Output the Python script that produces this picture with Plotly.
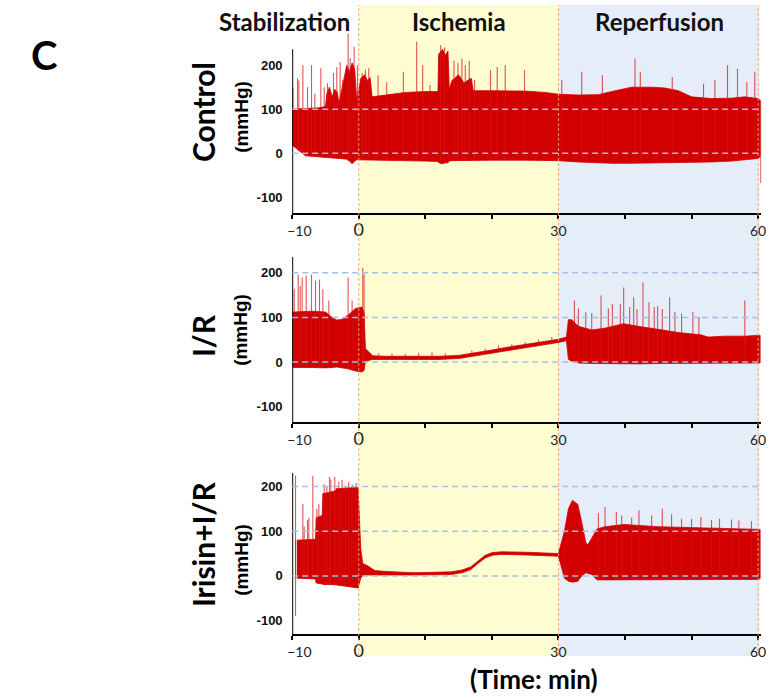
import numpy as np
import plotly.graph_objects as go

W, H = 770, 698

# ---------------- data ----------------
phase_names = ["Stabilization", "Ischemia", "Reperfusion"]
panel_names = ["Control", "I/R", "Irisin+I/R"]
y_tick_vals = [-100, 0, 100, 200]
y_tick_text = ["-100", "0", "100", "200"]
x_tick_vals = [-10, 0, 10, 20, 30, 40, 50, 60]
x_tick_text = ["\u00a0\u00a0\u00a0\u00a0−10", "<span style='font-size:18px'>0</span>", "", "", "30", "", "", "60"]
grid_ctrl = [0, 100]
grid_ir = [0, 100, 200]
grid_irisin = [0, 100, 200]

# Control: envelope of the pressure trace
ctrl_t = [-10, -8, -6, -5, -4.8, -4.4, -4.0, -3.6, -3.2, -3.0, -2.2, -1.8, -1.4, -1.0, -0.6, -0.3, 0.3, 0.9, 1.3, 1.7, 2.0, 4, 7, 10, 11.9, 12.0, 12.6, 13.0, 13.4,
          13.6, 14.0, 15.0, 15.8, 16.9, 17.2, 20, 25, 28, 30, 33, 36, 38, 41, 44, 46, 48, 50, 53, 56, 58, 60, 60.3]
ctrl_hi = [100, 101, 103, 106, 135, 150, 128, 145, 138, 112, 175, 200, 185, 205, 190, 118, 170, 178, 165, 172, 128, 132, 138, 140, 140, 225, 236, 222, 232,
           145, 165, 178, 160, 170, 142, 142, 141, 138, 134, 132, 133, 140, 150, 150, 148, 142, 128, 124, 125, 128, 124, 120]
ctrl_lo = [18, -6, -9, -10, -11, -11, -12, -12, -12, -12, -13, -14, -18, -24, -18, -15, -16, -16, -16, -16, -16, -16, -17, -18, -19, -22, -24, -22, -22,
           -18, -17, -17, -17, -17, -16, -16, -16, -16, -17, -20, -22, -23, -23, -22, -22, -22, -21, -20, -18, -15, -12, -8]
ctrl_spk_t = [-9.9, -9.2, -9.0, -8.4, -7.7, -7.1, -6.6, -5.7, -5.2, -4.7, -4.3, -3.8, -3.3, -2.8, -2.4, -1.6,
              -1.3, -0.7, -0.2, 0.5, 1.0, 1.5, 2.9, 4.2, 6.7, 8.7, 9.6, 10.7, 12.3, 12.9, 14.3, 14.9, 15.5,
              16.0, 16.6, 17.4, 19.8, 20.8, 22.0, 24.9, 30.5, 33.5, 36.6, 41.5, 42.3, 47.1, 51.8, 53.5,
              55.4, 56.9, 58.3, 59.5, 60.4]
ctrl_spk_v = [150, 170, 165, 200, 150, 200, 135, 193, 150, 159, 143, 182, 195, 207, 166, 272,
              216, 241, 200, 182, 190, 193, 177, 161, 185, 253, 200, 155, 245, 240, 210, 205, 215,
              200, 210, 166, 189, 196, 200, 189, 166, 185, 177, 215, 185, 173, 158, 166,
              200, 192, 162, 185, -68]

# I/R
ir_t = [-10, -9.8, -7, -5, -4, -3.3, -2.5, -1.6, -0.5, 0.5, 0.8, 1.0, 2.1, 4, 8, 12, 15, 16.8, 20, 22.6,
        25, 28.3, 30, 31.2, 31.5, 32, 33, 35, 37, 39.8, 42, 45.6, 48, 51.4, 52.5, 55, 58, 60, 60.3]
ir_hi = [112, 112, 114, 112, 100, 94, 96, 105, 120, 123, 110, 30, 14, 13, 13, 13, 15, 19, 27, 34,
         39, 47, 51, 56, 95, 95, 80, 72, 76, 86, 80, 72, 66, 61, 56, 58, 58, 60, 60]
ir_lo = [-8, -12, -12, -13, -12, -11, -12, -15, -20, -22, -18, 2, 6, 6, 6, 6, 8, 12, 20, 27,
         32, 40, 44, 48, 6, 2, -2, -3, -3, -4, -4, -3, -3, -3, -2, -2, -2, -2, -2]
ir_spk_t = [-9.7, -9.1, -8.8, -8.5, -7.9, -7.1, -6.5, -5.9, -5.4, -4.5, -1.6, -1.0, 0.6, 0.8,
            3, 5, 7, 9, 11, 13, 17, 19, 21, 23, 25, 27, 29,
            32.4, 33.0, 34.1, 35.0, 36.4, 37.5, 38.1, 39.3, 39.8, 40.7, 41.3, 41.8, 42.7, 43.6, 44.4,
            44.9, 45.6, 46.7, 47.5, 48.5, 50.2, 51.1, 58.0]
ir_spk_v = [163, 196, 170, 189, 193, 196, 182, 185, 163, 138, 189, 138, 211, 196,
            20, 19, 18, 21, 22, 20, 26, 30, 37, 41, 45, 50, 56,
            138, 120, 112, 110, 149, 120, 130, 130, 167, 123, 145, 118, 178, 134, 123,
            125, 119, 145, 112, 108, 112, 101, 138]

# Irisin + I/R
irs_t = [-9.3, -6.5, -6.4, -5.5, -5.4, -3.5, -3.4, -0.1, 0.3, 0.6, 1.4, 2.4, 4.1, 8.2, 13.9, 15.5, 16.8,
         18, 19, 20, 21.4, 25, 30, 30.9, 31.5, 32.1, 32.9, 33.5, 34.1, 34.4, 35, 35.8, 37, 39.8, 45,
         50, 55, 60, 60.3]
irs_hi = [80, 82, 130, 135, 184, 190, 195, 198, 60, 28, 22, 12, 10, 7, 9, 13, 20,
          35, 46, 52, 54, 53, 50, 100, 150, 169, 160, 120, 75, 69, 85, 105, 110, 115, 110,
          108, 107, 105, 104]
irs_lo = [-5, -7, -16, -18, -19, -20, -21, -27, -5, 1, 2, 3, 3, 2, 3, 7, 14,
          29, 40, 46, 48, 47, 44, -5, -12, -14, -12, 0, 7, 6, 3, -9, -9, -8, -8,
          -8, -8, -8, -6]
irs_spk_t = [-9.5, -9.5, -8.4, -8.2, -7.7, -7.5, -6.9, -6.3, -6.0, -5.2, -4.8, -4.4, -4.2, -3.6, -3.0,
             -2.5, -2.0, -1.5, -1.0, -0.4, 30.9, 36.0, 37.0, 38.7, 39.5, 41.0, 42.1, 44.0, 45.6, 47.0,
             48.5, 50.0, 51.4, 53.0, 54.2, 56.0, 57.1, 59.0]
irs_spk_v = [224, -90, 161, 110, 125, 130, 224, 150, 160, 205, 200, 221, 215, 221, 210,
             215, 200, 210, 205, 208, 69, 140, 154, 143, 135, 130, 147, 135, 150, 138,
             128, 128, 132, 125, 128, 126, 124, 122]

panels = [
    dict(t=ctrl_t, hi=ctrl_hi, lo=ctrl_lo, st=ctrl_spk_t, sv=ctrl_spk_v, grid=grid_ctrl),
    dict(t=ir_t, hi=ir_hi, lo=ir_lo, st=ir_spk_t, sv=ir_spk_v, grid=grid_ir),
    dict(t=irs_t, hi=irs_hi, lo=irs_lo, st=irs_spk_t, sv=irs_spk_v, grid=grid_irisin),
]

# ---------------- layout geometry (pixels) ----------------
X_LEFT, PX_PER_MIN = 282, 6.87
X_RANGE = [-10, 60.5]
x_dom = [X_LEFT / W, (X_LEFT + (X_RANGE[1] - X_RANGE[0]) * PX_PER_MIN) / W]
geo = [
    dict(bot=213, rng=[-136, 290], ytop=236, ppu=0.44),
    dict(bot=422, rng=[-134, 245], ytop=235, ppu=0.447),
    dict(bot=634, rng=[-130, 245], ytop=230, ppu=0.447),
]

RED = "#D20000"
SPK = "rgba(214,20,20,0.72)"
GRID = "rgba(165,192,228,1)"
LATO = "Lato"
ARIAL = "Liberation Sans"

fig = go.Figure()
shapes, annos = [], []

for i, (p, g) in enumerate(zip(panels, geo), start=1):
    xa, ya = f"x{i}", f"y{i}"
    t = np.array(p["t"], float)
    hi = np.array(p["hi"], float)
    lo = np.array(p["lo"], float)
    fig.add_trace(go.Scatter(
        x=np.concatenate([t, t[::-1]]), y=np.concatenate([hi, lo[::-1]]),
        fill="toself", fillcolor=RED, line=dict(color=RED, width=0.8),
        mode="lines", hoverinfo="skip", showlegend=False, xaxis=xa, yaxis=ya))
    st = np.array(p["st"], float)
    sv = np.array(p["sv"], float)
    lo_at = np.interp(st, t, lo)
    hi_at = np.interp(st, t, hi)
    base = np.where(sv < lo_at, hi_at, lo_at)
    xs, ys = [], []
    for a, b, c in zip(st, base, sv):
        xs += [a, a, None]
        ys += [b, c, None]
    fig.add_trace(go.Scatter(x=xs, y=ys, mode="lines", line=dict(color=SPK, width=1.1),
                             hoverinfo="skip", showlegend=False, xaxis=xa, yaxis=ya))

    bot = g["bot"]
    top = bot - (g["rng"][1] - g["rng"][0]) * g["ppu"]
    dom = [1 - bot / H, 1 - top / H]
    fig.layout[f"xaxis{i}"] = dict(
        domain=x_dom, range=X_RANGE, anchor=ya, showline=True, linecolor="black", linewidth=2,
        ticks="outside", ticklen=4, tickwidth=1.5, tickcolor="black", ticklabeloverflow="allow",
        tickvals=x_tick_vals, ticktext=x_tick_text, tickfont=dict(family=LATO, size=14, color="#222"),
        showgrid=False, zeroline=False, fixedrange=True)
    fig.layout[f"yaxis{i}"] = dict(
        domain=dom, range=g["rng"], anchor=xa, showline=False, showgrid=False, zeroline=False,
        tickvals=y_tick_vals, ticktext=y_tick_text, ticks="outside", ticklen=6,
        tickcolor="rgba(0,0,0,0)", tickfont=dict(family=ARIAL, size=13, color="#111", weight="bold"))
    shapes.append(dict(type="line", xref=xa, yref=ya, x0=-10, x1=-10, y0=g["rng"][0], y1=g["ytop"],
                       line=dict(color="black", width=2), layer="above"))
    for gv in p["grid"]:
        shapes.append(dict(type="line", xref=xa, yref=ya, x0=-10, x1=60.4, y0=gv, y1=gv,
                           line=dict(color=GRID, width=1.5, dash="6px,4px"), layer="above"))

# phase shading and boundaries (span all panels)
y_sh0, y_sh1 = 1 - 656 / H, 1 - 5 / H
shapes.insert(0, dict(type="rect", xref="x3", yref="paper", x0=0, x1=30, y0=y_sh0, y1=y_sh1,
                      fillcolor="#FEFDD2", line=dict(width=0), layer="below"))
shapes.insert(1, dict(type="rect", xref="x3", yref="paper", x0=30, x1=60.2, y0=y_sh0, y1=y_sh1,
                      fillcolor="#E5EDF8", line=dict(width=0), layer="below"))
for xv in [0, 30, 60]:
    shapes.append(dict(type="line", xref="x3", yref="paper", x0=xv, x1=xv, y0=y_sh0, y1=y_sh1,
                       line=dict(color="rgba(240,165,100,0.9)", width=1, dash="3px,2px"), layer="above"))

for name, cx in zip(phase_names, [274, 454, 661]):
    annos.append(dict(text=name, xref="paper", yref="paper", x=cx / W, y=1 - 21 / H,
                      showarrow=False, font=dict(family=LATO, size=24, color="#111", weight="bold"),
                      xanchor="center", yanchor="middle"))
lab_pos = [(112, 117), (336, 330), (545, 560)]
for name, (cy, cym) in zip(panel_names, lab_pos):
    annos.append(dict(text=name, xref="paper", yref="paper", x=190 / W, y=1 - cy / H, textangle=-90,
                      showarrow=False, font=dict(family=LATO, size=30, color="black", weight="bold"),
                      xanchor="center", yanchor="middle"))
    annos.append(dict(text="(mmHg)", xref="paper", yref="paper", x=229 / W, y=1 - cym / H, textangle=-90,
                      showarrow=False, font=dict(family=ARIAL, size=19, color="black", weight="bold"),
                      xanchor="center", yanchor="middle"))
annos.append(dict(text="C", xref="paper", yref="paper", x=26 / W, y=1 - 55 / H, showarrow=False,
                  font=dict(family=LATO, size=40, color="black", weight="bold"),
                  xanchor="center", yanchor="middle"))
annos.append(dict(text="(Time: min)", xref="paper", yref="paper", x=532 / W, y=1 - 679 / H, showarrow=False,
                  font=dict(family=LATO, size=26, color="black", weight="bold"),
                  xanchor="center", yanchor="middle"))

fig.update_layout(width=W, height=H, autosize=False, margin=dict(l=0, r=0, t=0, b=0),
                  paper_bgcolor="white", plot_bgcolor="rgba(0,0,0,0)",
                  shapes=shapes, annotations=annos, showlegend=False)
fig.write_html("out.html", config=dict(responsive=False, displayModeBar=False),
               post_script="document.body.style.margin='0';document.body.style.overflow='hidden';")
